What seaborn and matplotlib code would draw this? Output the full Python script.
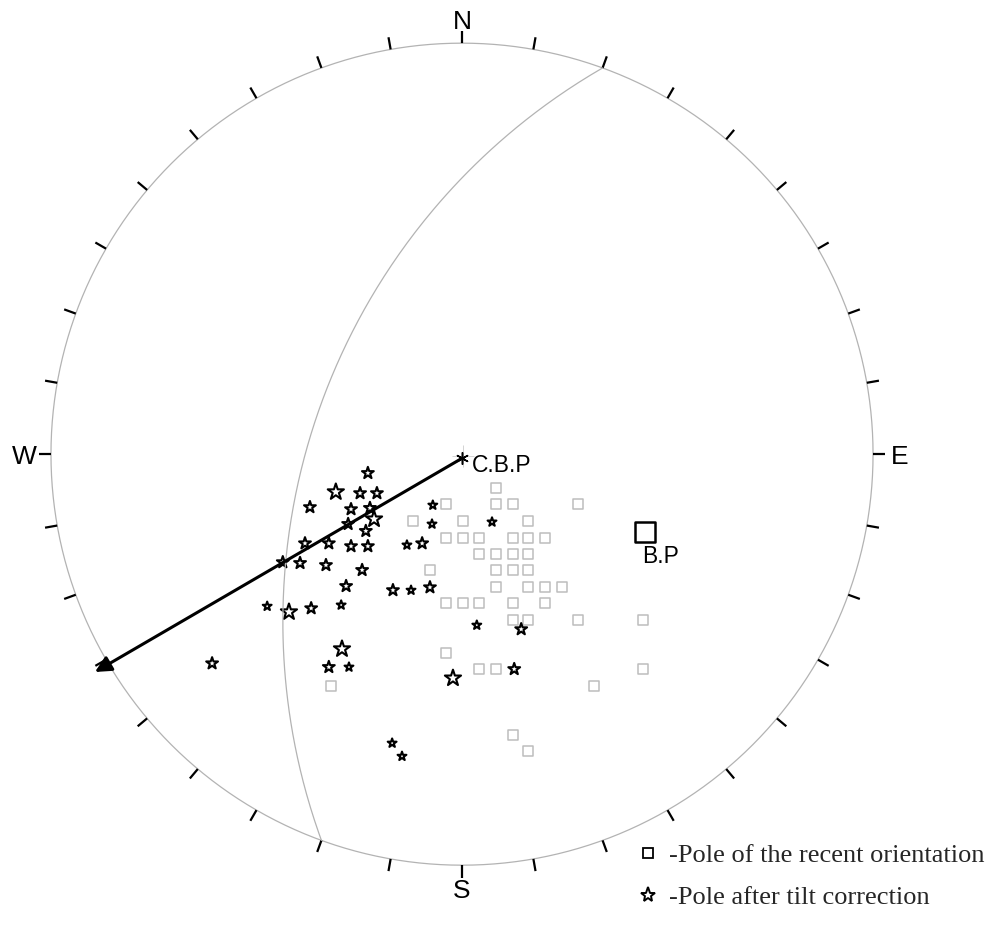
import numpy as np
import pandas as pd
import seaborn as sns
import matplotlib.pyplot as plt
from matplotlib.lines import Line2D

# net coordinates: x = east, y = north, primitive circle radius = 1
square_x = [0.083,
            -0.038, 0.083, 0.124, 0.282,
            -0.119, 0.002, 0.161,
            -0.038, 0.002, 0.041, 0.124, 0.161, 0.202,
            0.041, 0.083, 0.124, 0.161,
            -0.078, 0.083, 0.124, 0.161,
            0.083, 0.161, 0.202, 0.243,
            -0.038, 0.002, 0.041, 0.124, 0.202,
            0.124, 0.161, 0.282, 0.440,
            -0.038,
            0.041, 0.083, 0.440,
            0.321, -0.319,
            0.124, 0.161]
square_y = [-0.083,
            -0.122, -0.122, -0.122, -0.122,
            -0.163, -0.163, -0.163,
            -0.204, -0.204, -0.204, -0.204, -0.204, -0.204,
            -0.243, -0.243, -0.243, -0.243,
            -0.282, -0.282, -0.282, -0.282,
            -0.324, -0.324, -0.324, -0.324,
            -0.363, -0.363, -0.363, -0.363, -0.363,
            -0.404, -0.404, -0.404, -0.404,
            -0.484,
            -0.523, -0.523, -0.523,
            -0.564, -0.564,
            -0.684, -0.723]

star_x = [-0.229, -0.307, -0.248, -0.207, -0.370, -0.270, -0.224, -0.071,
          -0.277, -0.214, -0.073, -0.234, 0.073, -0.382, -0.324, -0.270,
          -0.229, -0.134, -0.097, -0.436, -0.394, -0.331, -0.243, -0.282,
          -0.168, -0.124, -0.078, -0.474, -0.421, -0.367, -0.294, 0.036,
          0.144, -0.292, -0.324, -0.275, -0.608, -0.022, 0.127, -0.170,
          -0.146]
star_y = [-0.046, -0.092, -0.095, -0.095, -0.129, -0.134, -0.131, -0.124,
          -0.170, -0.158, -0.170, -0.187, -0.165, -0.217, -0.217, -0.224,
          -0.224, -0.221, -0.217, -0.263, -0.265, -0.270, -0.282, -0.321,
          -0.331, -0.331, -0.324, -0.370, -0.384, -0.375, -0.367, -0.416,
          -0.426, -0.474, -0.518, -0.518, -0.509, -0.545, -0.523, -0.703,
          -0.735]
star_size = ['m', 'l', 'm', 'm', 'm', 'm', 'm', 's',
             'm', 'l', 's', 'm', 's', 'm', 'm', 'm',
             'm', 's', 'm', 'm', 'm', 'm', 'm', 'm',
             'm', 's', 'm', 's', 'l', 'm', 's', 's',
             'm', 'l', 'm', 's', 'm', 'l', 'm', 's',
             's']

bp_x, bp_y = [0.445], [-0.190]
cbp_x, cbp_y = [0.0], [-0.010]
arrow_x, arrow_y = -0.893, -0.530

plane_strike, plane_dip = 20, 50
cardinals = ['N', 'E', 'S', 'W']
cardinal_az = [0, 90, 180, 270]

legend_labels = ['-Pole of the recent orientation', '-Pole after tilt correction']

squares = pd.DataFrame({'x': square_x, 'y': square_y})
stars = pd.DataFrame({'x': star_x, 'y': star_y, 'size': star_size})

sns.set_theme(style="white")
plt.rcParams['font.family'] = ['Liberation Sans', 'DejaVu Sans']

fig = plt.figure(figsize=(9.98, 9.33), dpi=100)
ax = fig.add_axes([0, 0, 1, 1])
ax.set_xlim(-1.124, 1.304)
ax.set_ylim(-1.165, 1.105)
ax.axis('off')

# primitive circle and 10 degree ticks
t = np.linspace(0, 2 * np.pi, 721)
ax.plot(np.sin(t), np.cos(t), color='#b3b3b3', lw=0.9)
for az in np.radians(np.arange(0, 360, 10)):
    ax.plot([np.sin(az), 1.03 * np.sin(az)], [np.cos(az), 1.03 * np.cos(az)],
            color='black', lw=1.6, solid_capstyle='butt')

# great circle (stereographic)
a = np.radians(np.linspace(0, 180, 181))
s = np.radians(plane_strike)
dd = np.radians(plane_strike + 270)
dip = np.radians(plane_dip)
e = np.cos(a) * np.sin(s) + np.sin(a) * np.cos(dip) * np.sin(dd)
n = np.cos(a) * np.cos(s) + np.sin(a) * np.cos(dip) * np.cos(dd)
d = np.sin(a) * np.sin(dip)
plunge = np.arcsin(np.clip(d, -1, 1))
trend = np.arctan2(e, n)
r = np.tan((np.pi / 2 - plunge) / 2)
ax.plot(r * np.sin(trend), r * np.cos(trend), color='#b3b3b3', lw=0.9)

# poles
sns.scatterplot(data=squares, x='x', y='y', marker='s', s=55, facecolor='white',
                edgecolor='#bdbdbd', linewidth=1.1, legend=False, ax=ax)
sns.scatterplot(data=stars, x='x', y='y', size='size',
                sizes={'s': 45, 'm': 80, 'l': 150}, marker='*', facecolor='white',
                edgecolor='black', linewidth=1.5, legend=False, ax=ax)
sns.scatterplot(x=bp_x, y=bp_y, marker='s', s=210, facecolor='white',
                edgecolor='black', linewidth=1.8, legend=False, ax=ax)

# centre cross and C.B.P
ax.scatter([0.002], [-0.005], marker='+', s=250, color='#cccccc', linewidths=0.6)
ax.scatter(cbp_x, cbp_y, marker=(6, 2, 0), s=70, color='black', linewidths=1.1)
ax.annotate('', xy=(arrow_x, arrow_y), xytext=(cbp_x[0], cbp_y[0]),
            arrowprops=dict(arrowstyle='-|>', color='black', lw=2.2,
                            mutation_scale=24, shrinkA=0, shrinkB=0))

ax.text(0.024, -0.027, 'C.B.P', ha='left', va='center', fontsize=16.5, color='black')
ax.text(0.438, -0.248, 'B.P', ha='left', va='center', fontsize=16.5, color='black')

for lab, az in zip(cardinals, cardinal_az):
    rad = np.radians(az)
    ax.text(1.064 * np.sin(rad), 1.058 * np.cos(rad) - 0.006, lab, ha='center', va='center',
            fontsize=19, color='black')

handles = [Line2D([], [], ls='', marker='s', markersize=7, mfc='white', mec='black', mew=1.3),
           Line2D([], [], ls='', marker='*', markersize=11, mfc='white', mec='black', mew=1.4)]
ax.legend(handles, legend_labels, loc='upper left', bbox_to_anchor=(0.636, 0.096),
          frameon=False, prop={'family': 'Liberation Serif', 'size': 19},
          handlelength=1.0, handletextpad=0.3, labelspacing=0.7,
          borderpad=0, borderaxespad=0)

fig.savefig('out.png', dpi=100)
